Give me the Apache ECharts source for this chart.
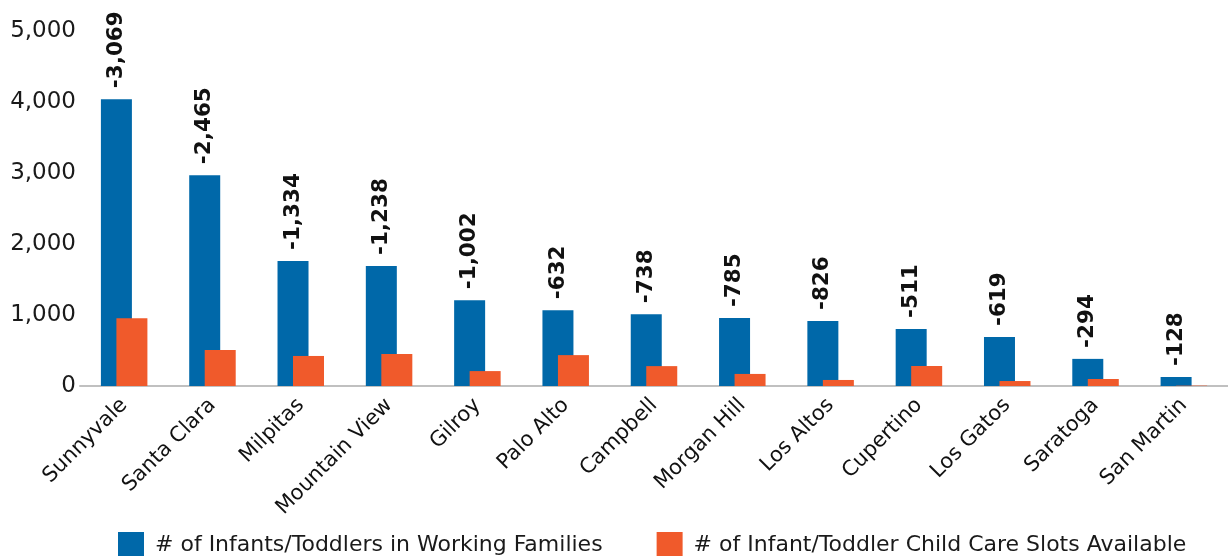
<!DOCTYPE html>
<html><head><meta charset="utf-8">
<script src="https://cdn.jsdelivr.net/npm/echarts@6/dist/echarts.min.js"></script>
<style>html,body{margin:0;padding:0;background:#fff}#c{width:1228px;height:556px}</style>
</head><body><div id="c"></div>
<script>
const categories = ["Sunnyvale","Santa Clara","Milpitas","Mountain View","Gilroy","Palo Alto","Campbell","Morgan Hill","Los Altos","Cupertino","Los Gatos","Saratoga","San Martin"];
const infantsToddlers = [4040, 2970, 1760, 1690, 1208, 1067, 1012, 957, 915, 803, 690, 382, 127];
const careSlots = [955, 507, 423, 451, 210, 435, 280, 170, 85, 282, 70, 99, 5];
const gapLabels = ["-3,069","-2,465","-1,334","-1,238","-1,002","-632","-738","-785","-826","-511","-619","-294","-128"];
const yTicks = [0, 1000, 2000, 3000, 4000, 5000];

const FONT = 'DejaVu Sans';
const chart = echarts.init(document.getElementById('c'));
chart.setOption({
  animation: false,
  grid: {left: 80, top: 31, width: 1160, bottom: 170, containLabel: false},
  legend: {
    left: 113, top: 527, itemWidth: 26, itemHeight: 26, itemGap: 54,
    icon: 'rect',
    textStyle: {fontFamily: FONT, fontSize: 22, color: '#1a1a1a', padding: [0,0,0,6]},
    data: ['# of Infants/Toddlers in Working Families', '# of Infant/Toddler Child Care Slots Available']
  },
  xAxis: {
    type: 'category', data: categories,
    axisLine: {lineStyle: {color: '#c0c0c0', width: 2}},
    axisTick: {show: false},
    axisLabel: {rotate: 45, interval: 0, margin: 16, fontFamily: FONT, fontSize: 21, color: '#111'}
  },
  yAxis: {
    type: 'value', min: yTicks[0], max: yTicks[yTicks.length-1], interval: 1000,
    splitLine: {show: false}, axisLine: {show: false}, axisTick: {show: false},
    axisLabel: {margin: 4, fontFamily: FONT, fontSize: 23, color: '#1a1a1a',
      formatter: v => v.toLocaleString('en-US')}
  },
  series: [
    {
      name: '# of Infants/Toddlers in Working Families', type: 'bar', data: infantsToddlers,
      barWidth: 31, barGap: '-50%', itemStyle: {color: '#0068a9'},
      label: {show: true, position: 'top', rotate: 90, align: 'left', verticalAlign: 'middle', distance: 11,
        fontFamily: FONT, fontWeight: 'bold', fontSize: 21.5, color: '#111',
        formatter: p => gapLabels[p.dataIndex]}
    },
    {
      name: '# of Infant/Toddler Child Care Slots Available', type: 'bar', data: careSlots,
      barWidth: 31, itemStyle: {color: '#f05a2b'}, z: 3
    }
  ]
});
</script></body></html>
